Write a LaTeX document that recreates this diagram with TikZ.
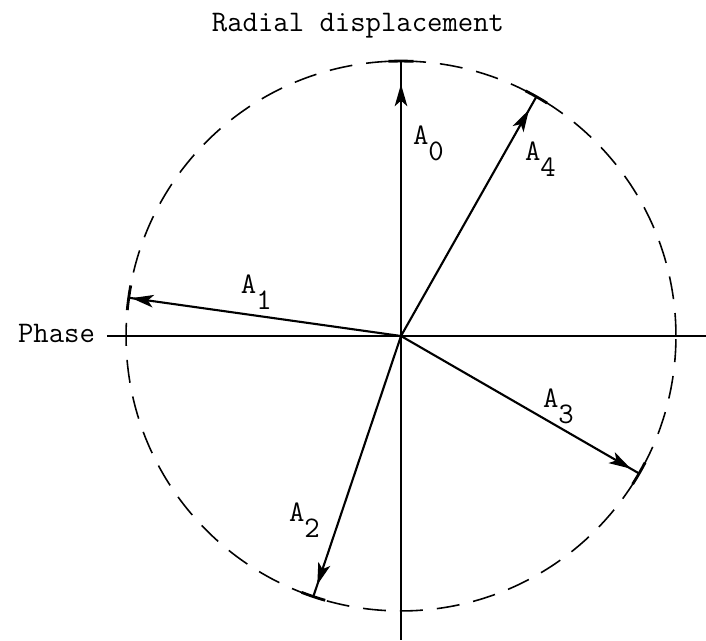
\documentclass[tikz,border=0pt]{standalone}
\usepackage{fontspec}
\usepackage{tikz}
\usetikzlibrary{arrows.meta,decorations.markings}

\begin{document}
\begin{tikzpicture}[
  x=0.02cm, y=0.02cm,
  font=\fontsize{17}{20}\selectfont\ttfamily,
  txt/.style={inner sep=0pt, outer sep=0pt},
  axis/.style={line width=1.2pt, draw=black},
  rim/.style={line width=0.9pt, dash pattern=on 0.46cm off 0.28cm},
  endbar/.style={line width=1.6pt},
  vec/.style={line width=1.2pt, postaction={decorate},
    decoration={markings, mark=at position #1 with
      {\arrow{Stealth[length=4.4mm, width=2.5mm, inset=1.1mm]}}}},
]
\useasboundingbox (-401,336) rectangle (305,-304);

% centre, vector tips and axis ends
\coordinate (O) at (0,0);
\coordinate (e0) at (90:5.5cm);
\coordinate (e1) at (172:5.5cm);
\coordinate (e2) at (-108.6:5.5cm);
\coordinate (e3) at (-30:5.5cm);
\coordinate (e4) at (60.5:5.5cm);
\coordinate (hl) at (-294,0);
\coordinate (hr) at (305,0);
\coordinate (vb) at (0,-304);

% dashed locus
\draw[rim] (O) circle[radius=5.5cm];

% axes
\node[txt, anchor=base] (title) at (-43,305) {Radial displacement};
\node[txt, anchor=base east] (phase) at (-306,-6) {Phase};
\draw[axis] (hl) -- (hr);
\draw[axis] (O) -- (vb);

% the five vectors
\draw[vec=0.916] (O) -- (e0);
\draw[vec=0.99] (O) -- (e1);
\draw[vec=0.955] (O) -- (e2);
\draw[vec=0.965] (O) -- (e3);
\draw[vec=0.945] (O) -- (e4);
\foreach \a in {90,172,-108.6,-30,60.5}
  \draw[endbar] ({\a-2.6}:5.5cm) arc[start angle=\a-2.6, end angle=\a+2.6, radius=5.5cm];

\node[txt, anchor=base west] (a0) at (12,192) {A\raisebox{-3.2mm}{0}};
\node[txt, anchor=base west] (a1) at (-160,43) {A\raisebox{-3.2mm}{1}};
\node[txt, anchor=base west] (a2) at (-112,-185) {A\raisebox{-3.2mm}{2}};
\node[txt, anchor=base west] (a3) at (142,-71) {A\raisebox{-3.2mm}{3}};
\node[txt, anchor=base west] (a4) at (124,176) {A\raisebox{-3.2mm}{4}};
\end{tikzpicture}
\end{document}
